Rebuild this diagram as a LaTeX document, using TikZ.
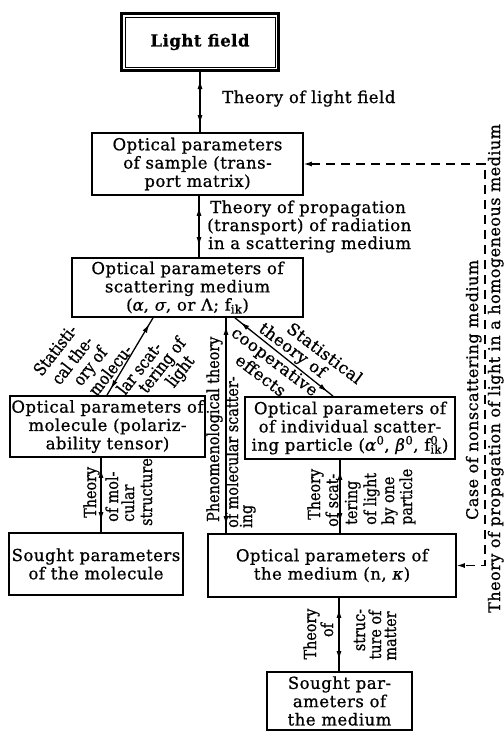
\documentclass[tikz,border=0pt]{standalone}
\usepackage{fontspec}
\setmainfont{DejaVu Serif}[LetterSpace=3,FakeBold=0.8]
\newfontfamily\condfont{DejaVu Serif}[FakeStretch=0.87,FakeBold=0.8]
\usetikzlibrary{arrows.meta,decorations.markings}
\newcommand\bxf{\fontsize{16.5}{18.3}\selectfont}
\newcommand\lbf{\fontsize{16.5}{18}\selectfont}
\newcommand\sdf{\fontsize{16}{18}\selectfont}
\newcommand\cdf{\condfont\fontsize{16.5}{18}\selectfont}
\newcommand\dgf{\condfont\fontsize{17}{18}\selectfont}
\tikzset{
  box/.style={draw, line width=1.8pt, inner sep=0pt, align=center, font=\bxf},
  conn/.style={line width=1.3pt, postaction={decorate}, decoration={markings,
     mark=at position #1 with {\arrowreversed{Latex[length=9pt,width=5pt]}},
     mark=at position -#1 with {\arrow{Latex[length=9pt,width=5pt]}}}},
  conn/.default=11pt,
  vlab/.style={rotate=90, anchor=base west, inner sep=0pt, font=\cdf},
  vlabc/.style={rotate=90, anchor=base, inner sep=0pt, font=\cdf},
  vlabn/.style={rotate=90, anchor=base west, inner sep=0pt, font=\sdf},
  hlab/.style={anchor=base west, inner sep=0pt, font=\bxf},
  ldiag/.style={rotate=52, inner sep=0pt, font=\dgf},
  rdiag/.style={rotate=-37, inner sep=0pt, font=\lbf},
}
\begin{document}
\begin{tikzpicture}[x=1pt,y=-1pt]
\fill[white] (0,0) rectangle (504,732);
\useasboundingbox (0,0) rectangle (504,732);
% boxes
\node[box, line width=3pt, minimum width=157pt, minimum height=57pt, font=\bxf\bfseries] (L) at (200,42) {Light field};
\draw[line width=0.9pt] ([shift={(5pt,-5pt)}]L.north west) rectangle ([shift={(-5pt,5pt)}]L.south east);
\node[box, minimum width=211pt, minimum height=62pt] (S2) at (197.5,164) {Optical parameters\\of sample (trans-\\port matrix)};
\node[box, minimum width=231pt, minimum height=59pt] (S3) at (187.5,287.5) {Optical parameters of\\scattering medium\\(\textit{α}, \textit{σ}, or Λ; f\textsubscript{ik})};
\node[box, minimum width=195pt, minimum height=61pt] (M) at (107.5,426.5) {Optical parameters of\\molecule (polariz-\\ability tensor)};
\node[box, minimum width=210pt, minimum height=62pt] (P) at (350,428) {Optical parameters of\\of individual scatter-\\ing particle (\textit{α}\textsuperscript{0}, \textit{β}\textsuperscript{0}, f\rlap{\textsuperscript{0}}\textsubscript{ik})};
\node[box, minimum width=174pt, minimum height=62pt] (SM) at (96,564) {Sought parameters\\of the molecule};
\node[box, minimum width=248pt, minimum height=63pt] (N) at (332,565.5) {Optical parameters of\\the medium (n, \textit{κ})};
\node[box, minimum width=145pt, minimum height=58pt] (SN) at (339.5,701) {Sought par-\\ameters of\\the medium};
% x positions of connectors
\coordinate (xA) at (200,0);
\coordinate (xB) at (199,0);
\coordinate (xC1) at (153,0);
\coordinate (xC2) at (107,0);
\coordinate (xD1) at (235,0);
\coordinate (xD2) at (333,0);
\coordinate (xE) at (226,0);
\coordinate (xF) at (101,0);
\coordinate (xG) at (340,0);
\coordinate (xH) at (339,0);
\coordinate (xR) at (485,0);
% connectors
\draw[conn=8pt] (xA |- L.south) -- (xA |- S2.north);
\draw[conn=11pt] (xB |- S2.south) -- (xB |- S3.north);
\draw[conn=7pt] (xC1 |- S3.south) -- (xC2 |- M.north);
\draw[conn=7pt] (xD1 |- S3.south) -- (xD2 |- P.north);
\draw[conn=8pt] (xE |- S3.south) -- (xE |- N.north);
\draw[conn] (xF |- M.south) -- (xF |- SM.north);
\draw[conn] (xG |- P.south) -- (xG |- N.north);
\draw[conn] (xH |- N.south) -- (xH |- SN.north);
\draw[line width=1.1pt, dash pattern=on 9pt off 6pt, {Latex[length=8pt,width=5pt]}-{Latex[length=8pt,width=5pt]}]
  (S2.east) -- (xR |- S2.east) -- (xR |- N.east) -- (N.east);
% horizontal labels
\node[hlab] (t1) at (222,103) {Theory of light field};
\node[hlab] (t2) at (210,213) {Theory of propagation};
\node[hlab] (t3) at (207,231) {(transport) of radiation};
\node[hlab] (t4) at (208,249) {in a scattering medium};
% left diagonal label
\node[ldiag] (d1) at (55,350) {Statisti-};
\node[ldiag] (d2) at (72,360) {cal the-};
\node[ldiag] (d3) at (91,367) {ory of};
\node[ldiag] (d4) at (110,370) {molecu-};
\node[ldiag] (d5) at (139,368) {lar scat-};
\node[ldiag] (d6) at (163,366) {tering of};
\node[ldiag] (d7) at (181,372) {light};
% right diagonal label
\node[rdiag] (e1) at (325,353) {Statistical};
\node[rdiag] (e2) at (292,351) {theory of};
\node[rdiag] (e3) at (274,362.5) {cooperative};
\node[rdiag] (e4) at (261,375) {effects};
% phenomenological
\node[vlab] (p1) at (219,522) {Phenomenological theory};
\node[vlab] (p2) at (238,528) {of molecular scatter-};
\node[vlab] (p3) at (252,528) {ing};
% molecular structure
\node[vlab] (f1) at (96,518) {Theory};
\node[vlab] (f2) at (118,522) {of mol-};
\node[vlab] (f3) at (134,522) {cular};
\node[vlab] (f4) at (152,526) {structure};
% scattering by one particle
\node[vlab] (g1) at (320,520) {Theory};
\node[vlab] (g2) at (338,527) {of scat-};
\node[vlab] (g3) at (357,525) {tering};
\node[vlab] (g4) at (376,525) {of light};
\node[vlab] (g5) at (394,525) {by one};
\node[vlab] (g6) at (412,525) {particle};
% structure of matter
\node[vlabc] (h1) at (316,634) {Theory};
\node[vlabc] (h2) at (333,630) {of};
\node[vlabc] (h3) at (365,630) {struc-};
\node[vlabc] (h4) at (381,635) {ture of};
\node[vlabc] (h5) at (396,636) {matter};
% right side
\node[vlabn] (r1) at (478,520) {Case of nonscattering medium};
\node[vlabn] (r2) at (500,613) {Theory of propagation of light in a homogeneous medium};
\end{tikzpicture}
\end{document}
